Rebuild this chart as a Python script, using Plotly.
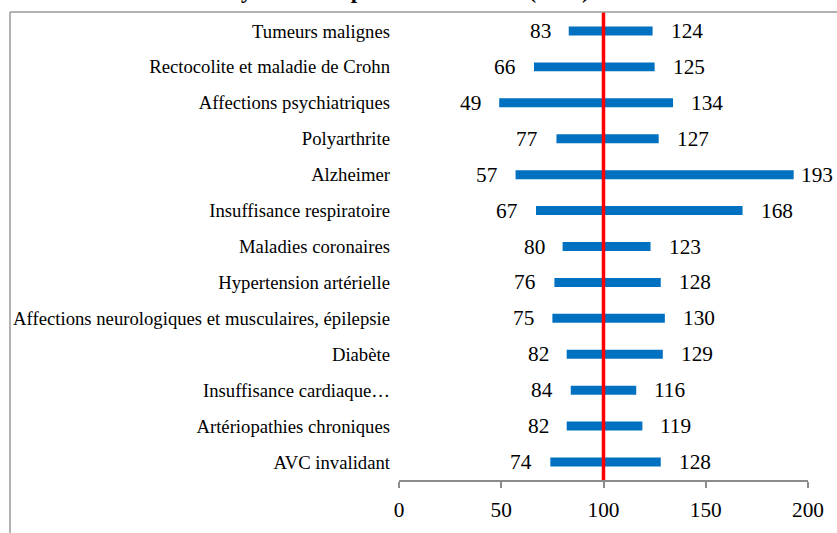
import plotly.graph_objects as go

# pathologies, top to bottom
categories = [
    "Tumeurs malignes",
    "Rectocolite et maladie de Crohn",
    "Affections psychiatriques",
    "Polyarthrite",
    "Alzheimer",
    "Insuffisance respiratoire",
    "Maladies coronaires",
    "Hypertension artérielle",
    "Affections neurologiques et musculaires, épilepsie",
    "Diabète",
    "Insuffisance cardiaque…",
    "Artériopathies chroniques",
    "AVC invalidant",
]
low_values = [83, 66, 49, 77, 57, 67, 80, 76, 75, 82, 84, 82, 74]
high_values = [124, 125, 134, 127, 193, 168, 123, 128, 130, 129, 116, 119, 128]
x_ticks = [0, 50, 100, 150, 200]
reference_value = 100

W, H = 837, 533
ml, mr, mt, mb = 399, 29, 13, 53
serif = "Liberation Serif, Times New Roman, serif"
label_size = 21.3

fig = go.Figure()

# floating bars from min to max
fig.add_trace(go.Bar(
    y=categories,
    x=[h - l for l, h in zip(low_values, high_values)],
    base=low_values,
    orientation="h",
    width=0.25,
    marker=dict(color="#0070C0", line=dict(width=0)),
    hoverinfo="skip",
))

# reference line at 100
fig.add_shape(type="line", xref="x", yref="paper",
              x0=reference_value, x1=reference_value, y0=0, y1=1.002,
              line=dict(color="#FF0000", width=3.5), layer="above")

ph = H - mt - mb
pw = W - ml - mr

# value labels (the right one is pulled in when it would run off the chart)
for cat, lo, hi in zip(categories, low_values, high_values):
    fig.add_annotation(x=lo, y=cat, text=str(lo), showarrow=False,
                       xanchor="right", xshift=-16,
                       font=dict(family=serif, size=label_size, color="black"))
    end_px = ml + hi / x_ticks[-1] * pw
    text_w = len(str(hi)) * 0.5 * label_size
    shift = min(16, (W - 6) - text_w - end_px)
    fig.add_annotation(x=hi, y=cat, text=str(hi), showarrow=False,
                       xanchor="left", xshift=shift,
                       font=dict(family=serif, size=label_size, color="black"))

# chart frame (left and top, the rest is cut off)
fx = (10 - ml) / pw
fy = (H - mb - 12) / ph
fig.add_shape(type="line", xref="paper", yref="paper",
              x0=fx, x1=fx, y0=fy, y1=-0.2,
              line=dict(color="#9a9a9a", width=1.5))
fig.add_shape(type="line", xref="paper", yref="paper",
              x0=fx, x1=1.1, y0=fy, y1=fy,
              line=dict(color="#9a9a9a", width=1.5))

# title, mostly cut off above the picture
fig.add_annotation(xref="paper", yref="paper", x=(592 - ml) / pw, y=(H - mb - 5) / ph,
                   xanchor="right", yanchor="bottom", showarrow=False,
                   text="<b>Écarts de coûts moyens des départements suivis (2015)</b>",
                   font=dict(family=serif, size=23, color="black"))

fig.update_layout(
    width=W, height=H,
    margin=dict(l=ml, r=mr, t=mt, b=mb),
    paper_bgcolor="white", plot_bgcolor="white",
    showlegend=False,
    font=dict(family=serif, color="black"),
    xaxis=dict(range=[0, 200], tickvals=x_ticks, showgrid=False, zeroline=False,
               showline=True, linecolor="#8c8c8c", linewidth=1.5,
               ticks="outside", ticklen=6, tickcolor="#8c8c8c", tickwidth=1.5,
               ticklabelstandoff=4,
               tickfont=dict(family=serif, size=label_size, color="black")),
    yaxis=dict(categoryorder="array", categoryarray=categories, autorange="reversed",
               showgrid=False, zeroline=False, showline=False, ticks="",
               ticklabelstandoff=8,
               tickfont=dict(family=serif, size=18.7, color="black")),
)

fig.write_html("out.html", config={"displayModeBar": False},
               post_script="document.body.style.margin='0';")
